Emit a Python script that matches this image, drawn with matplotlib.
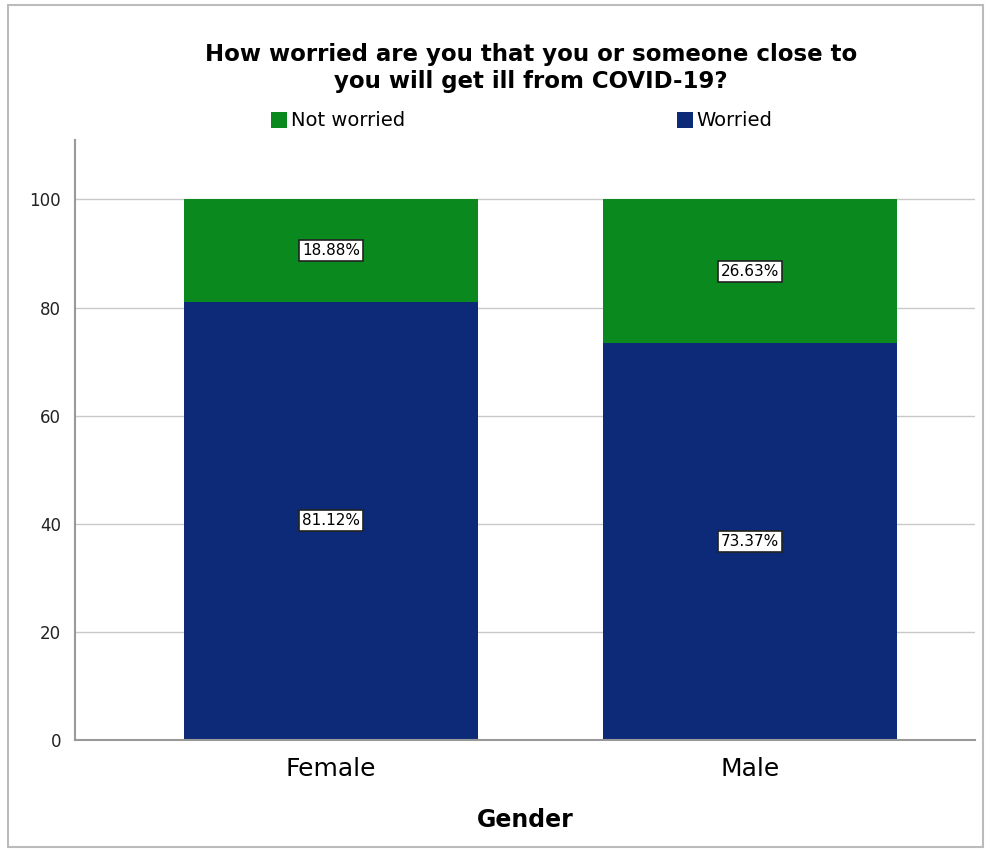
import matplotlib.pyplot as plt
from matplotlib.patches import Rectangle
import numpy as np

# data
genders = ['Female', 'Male']
worried = [81.12, 73.37]
not_worried = [18.88, 26.63]

green = '#0a8a1e'
blue = '#0c2a78'

fig = plt.figure(figsize=(9.93, 8.55), dpi=100)
ax = fig.add_axes([75 / 993, 115 / 855, 900 / 993, 600 / 855])

x = np.arange(len(genders))
b1 = ax.bar(x, worried, width=0.7, color=blue, label='Worried', zorder=2)
b2 = ax.bar(x, not_worried, width=0.7, bottom=worried, color=green, label='Not worried', zorder=2)

# percentage labels in boxes
for i in range(len(genders)):
    for val, base in [(worried[i], 0), (not_worried[i], worried[i])]:
        ax.text(x[i], base + val / 2, f'{val:.2f}%', ha='center', va='center', fontsize=11,
                bbox=dict(boxstyle='square,pad=0.2', fc='white', ec='#222222', lw=1.2), zorder=3)

ax.set_xlim(-0.611, 1.537)
ax.set_ylim(0, 111)
ax.set_yticks([0, 20, 40, 60, 80, 100])
ax.yaxis.grid(True, color='#c8c8c8', lw=1, zorder=0)
ax.set_axisbelow(True)
ax.set_xticks(x)
ax.set_xticklabels(genders, fontsize=18)
ax.tick_params(axis='y', labelsize=12, length=0, pad=10, colors='#222222')
ax.tick_params(axis='x', length=0, pad=12)
for s in ['top', 'right']:
    ax.spines[s].set_visible(False)
for s in ['left', 'bottom']:
    ax.spines[s].set_color('#999999')
    ax.spines[s].set_linewidth(1.5)
ax.set_xlabel('Gender', fontsize=17, fontweight='bold', labelpad=20)

fig.text(531 / 993, 1 - 68 / 855, 'How worried are you that you or someone close to\nyou will get ill from COVID-19?',
         ha='center', va='center', fontsize=16.5, fontweight='bold', linespacing=1.25)

h, l = ax.get_legend_handles_labels()
leg = fig.legend([h[1], h[0]], [l[1], l[0]], loc='center', bbox_to_anchor=(522 / 993, 1 - 121 / 855),
                 ncol=2, frameon=False, prop={'size': 14}, handlelength=0.8,
                 handleheight=0.9, handletextpad=0.2, columnspacing=14)

# outer frame
fig.patches.append(Rectangle((8 / 993, 8 / 855), 975 / 993, 842 / 855, transform=fig.transFigure,
                             fill=False, ec='#bbbbbb', lw=1.5))

fig.savefig('out.png', dpi=100)
